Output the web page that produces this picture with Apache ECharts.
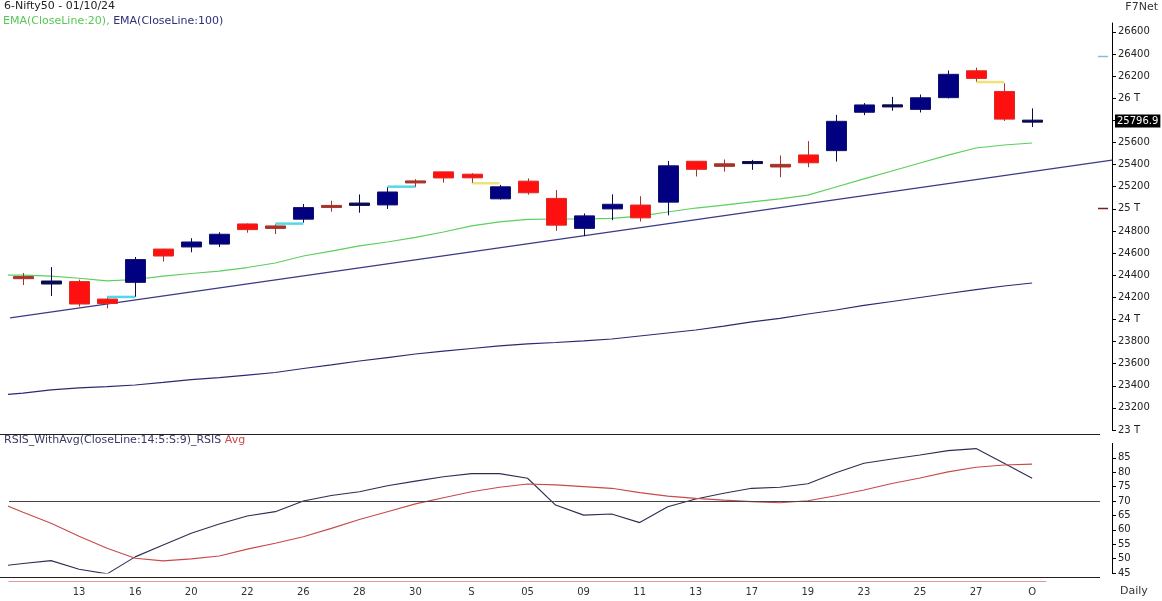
<!DOCTYPE html>
<html><head><meta charset="utf-8">
<script src="https://cdn.jsdelivr.net/npm/echarts@6/dist/echarts.min.js"></script>
<style>html,body{margin:0;padding:0;background:#fff}#c{width:1162px;height:601px}</style>
</head><body><div id="c"></div>
<script>
// ---- data (daily candles 09 Aug 2024 .. 01 Oct 2024) ----
const dates = ['09','12','13','14','16','19','20','21','22','23','26','27','28','29','30','02','03','04','05','06','09','10','11','12','13','16','17','18','19','20','23','24','25','26','27','30','01'];
const tickLabels = ['','','13','','16','','20','','22','','26','','28','','30','','S','','05','','09','','11','','13','','17','','19','','23','','25','','27','','O'];
const openP  = [24387,24320,24342,24184,24335,24636,24655,24681,24863,24845,24906,25025,25031,25035,25250,25334,25313,25090,25250,25094,24823,24999,25034,25060,25430,25407,25417,25402,25487,25526,25873,25921,25899,26005,26248,26061,25788];
const closeP = [24368,24347,24139,24144,24541,24573,24700,24770,24812,24823,25011,25018,25052,25152,25236,25279,25280,25199,25145,24852,24936,25041,24918,25389,25357,25384,25419,25378,25416,25791,25939,25940,26004,26216,26179,25811,25797];
const lowP   = [24311,24212,24116,24100,24205,24523,24607,24654,24784,24772,24875,24974,24965,24999,25199,25236,25236,25084,25128,24801,24753,24897,24885,24941,25292,25336,25352,25286,25376,25427,25847,25887,25871,25998,26151,25794,25739];
const highP  = [24420,24473,24360,24196,24564,24639,24734,24788,24867,24858,25044,25073,25130,25193,25268,25334,25322,25216,25275,25169,24958,25131,25114,25433,25431,25446,25442,25482,25612,25849,25956,26012,26033,26251,26277,26135,25908];
// line studies: first value is the session before the first candle (08 Aug)
const ema20  = [24401,24401,24392,24372,24348,24361,24392,24415,24437,24469,24510,24573,24618,24664,24700,24741,24790,24845,24881,24904,24908,24908,24913,24934,24971,25007,25034,25062,25089,25124,25197,25270,25342,25414,25486,25550,25577,25595];
const ema100 = [23312,23334,23362,23380,23393,23407,23430,23456,23474,23497,23520,23556,23588,23624,23655,23687,23714,23737,23760,23778,23791,23805,23823,23850,23877,23904,23940,23977,24009,24049,24085,24126,24162,24198,24234,24270,24302,24329];
const rsi    = [47.2,48.3,49.3,46.3,44.7,50.6,54.7,58.8,62.0,64.8,66.3,70.0,71.9,73.2,75.3,76.9,78.4,79.5,79.5,77.9,68.6,65.1,65.5,62.5,68.0,70.7,72.7,74.4,74.8,76.0,79.8,83.1,84.6,86.0,87.5,88.2,83.1,77.9];
const rsiAvg = [70.1,66.1,62.3,57.8,53.6,50.1,49.2,49.9,50.9,53.3,55.3,57.6,60.5,63.6,66.3,69.0,71.1,73.2,74.8,75.9,75.6,75.0,74.4,72.9,71.7,70.9,70.3,69.8,69.4,70.1,71.8,73.8,76.1,78.0,80.1,81.7,82.5,82.8];
const trendIdx = [-0.46, 38.85];
const trendVal = [24013, 25441];
const gapFrom  = [3, 9, 13, 16, 34];
const gapLevel = [24203, 24866, 25200, 25231, 26146];
const gapKind  = ['up','up','up','down','down'];
const markerLevel = [26385, 25005];
const markerKind  = ['cyan','maroon'];
const lastClose = 25796.9;
const rsiLevel = 70;

// ---- chart ----
const FONT = 'DejaVu Sans';
const chart = echarts.init(document.getElementById('c'), null, {renderer:'canvas'});
const XMIN = -0.5, XMAX = 38.85;

const candleData = openP.map((o,k)=>[k, o, closeP[k], lowP[k], highP[k]]);
const withIdx = arr => arr.map((v,k)=>[k-1, v]);
const gapData = gapFrom.map((f,k)=>[f, f+1, gapLevel[k]]);
const markerData = markerLevel.map(v=>[38.35, 38.71, v]);
const gapColor = {up:'#55D8E6', down:'#EEE27A'};
const markColor = {cyan:'#7CC3D6', maroon:'#7A1E1E'};

const option = {
  animation:false,
  backgroundColor:'#fff',
  textStyle:{fontFamily:FONT},
  grid:[
    {left:9, right:50, top:23, height:407},
    {left:9, right:50, top:443.4, height:129.6},
    {left:9, right:115.9, top:560, bottom:20}
  ],
  xAxis:[
    {type:'value', gridIndex:0, min:XMIN, max:XMAX, show:false},
    {type:'value', gridIndex:1, min:XMIN, max:XMAX, show:false},
    {type:'category', gridIndex:2, data:dates, boundaryGap:true,
      axisLine:{lineStyle:{color:'#E39A9A', width:1}},
      axisTick:{show:false},
      axisLabel:{interval:0, margin:6, color:'#333', fontSize:10, fontFamily:FONT,
        formatter:(v,idx)=>tickLabels[idx]}}
  ],
  yAxis:[
    {type:'value', gridIndex:0, position:'right', min:23000, max:26680, interval:200,
      axisLine:{show:true, onZero:false, lineStyle:{color:'#000', width:1}},
      axisTick:{show:true, length:4, lineStyle:{color:'#000'}},
      splitLine:{show:false},
      axisLabel:{margin:6, color:'#222', fontSize:10, fontFamily:FONT, showMaxLabel:false,
        formatter:v=> (v%1000===0 ? (v/1000)+' T' : String(v))}},
    {type:'value', gridIndex:1, position:'right', min:45, max:90, interval:5,
      axisLine:{show:true, onZero:false, lineStyle:{color:'#000', width:1}},
      axisTick:{show:true, length:4, lineStyle:{color:'#000'}},
      splitLine:{show:false},
      axisLabel:{margin:6, color:'#222', fontSize:10, fontFamily:FONT, showMaxLabel:false}},
    {type:'value', gridIndex:2, show:false}
  ],
  series:[
    {name:'trend', type:'line', xAxisIndex:0, yAxisIndex:0, data:trendIdx.map((x,k)=>[x, trendVal[k]]),
      symbol:'none', lineStyle:{color:'#3A3A86', width:1.3}, z:2, silent:true},
    {name:'EMA100', type:'line', xAxisIndex:0, yAxisIndex:0, data:withIdx(ema100),
      symbol:'none', lineStyle:{color:'#2A2A72', width:1.2}, z:2, silent:true},
    {name:'EMA20', type:'line', xAxisIndex:0, yAxisIndex:0, data:withIdx(ema20),
      symbol:'none', lineStyle:{color:'#5CCF5C', width:1.2}, z:2, silent:true},
    {name:'gaps', type:'custom', xAxisIndex:0, yAxisIndex:0, data:gapData, z:3, silent:true,
      renderItem:(params, api)=>{
        const a = api.coord([api.value(0), api.value(2)]);
        const b = api.coord([api.value(1), api.value(2)]);
        return {type:'line', shape:{x1:a[0], y1:a[1], x2:b[0], y2:b[1]},
          style:{stroke:gapColor[gapKind[params.dataIndex]], lineWidth:2.5}};
      }},
    {name:'markers', type:'custom', xAxisIndex:0, yAxisIndex:0, data:markerData, z:3, silent:true, clip:false,
      renderItem:(params, api)=>{
        const a = api.coord([api.value(0), api.value(2)]);
        const b = api.coord([api.value(1), api.value(2)]);
        return {type:'line', shape:{x1:a[0], y1:Math.round(a[1])+0.5, x2:b[0], y2:Math.round(b[1])+0.5},
          style:{stroke:markColor[markerKind[params.dataIndex]], lineWidth:1.5}};
      }},
    {name:'lastLabel', type:'custom', xAxisIndex:0, yAxisIndex:0, data:[[XMAX, lastClose]], z:10, silent:true, clip:false,
      renderItem:(params, api)=>{
        const p = api.coord([api.value(0), api.value(1)]);
        return {type:'text', x:p[0]+3, y:Math.round(p[1]), style:{text:String(lastClose), fill:'#fff',
          backgroundColor:'#000', padding:[2,2,1,2], font:'10px "DejaVu Sans"', verticalAlign:'middle', align:'left'}};
      }},
    {name:'candles', type:'custom', xAxisIndex:0, yAxisIndex:0, data:candleData, z:5, silent:true,
      encode:{x:0, y:[1,2,3,4]},
      renderItem:(params, api)=>{
        const i = api.value(0), o = api.value(1), c = api.value(2), l = api.value(3), h = api.value(4);
        const pO = api.coord([i,o]), pC = api.coord([i,c]), pL = api.coord([i,l]), pH = api.coord([i,h]);
        const band = api.size([1,0])[0];
        const half = band*0.357;
        const x = Math.round(pO[0]) + 0.5;
        const up = c >= o;
        let top = Math.min(pO[1], pC[1]), bot = Math.max(pO[1], pC[1]);
        const wick = up ? '#0A0A50' : '#A8322A';
        let fill = up ? '#000080' : '#FF1010';
        let stroke = up ? '#10106E' : '#E02A20';
        if (bot - top < 3) { fill = wick; stroke = wick; if (bot-top < 2) { const m=(top+bot)/2; top=m-1; bot=m+1; } }
        return {type:'group', children:[
          {type:'line', shape:{x1:x, y1:pH[1], x2:x, y2:pL[1]}, style:{stroke:wick, lineWidth:1}},
          {type:'rect', shape:{x:x-half, y:top, width:half*2, height:bot-top},
            style:{fill:fill, stroke:stroke, lineWidth:1}}
        ]};
      }},
    {name:'RSIS', type:'line', xAxisIndex:1, yAxisIndex:1, data:withIdx(rsi),
      symbol:'none', lineStyle:{color:'#2E2E52', width:1.1}, z:3, silent:true,
      markLine:{silent:true, symbol:['none','none'], label:{show:false},
        lineStyle:{color:'#444', width:1, type:'solid'},
        data:[[{coord:[XMIN, rsiLevel]},{coord:[38.42, rsiLevel]}]]}},
    {name:'Avg', type:'line', xAxisIndex:1, yAxisIndex:1, data:withIdx(rsiAvg),
      symbol:'none', lineStyle:{color:'#C84A4A', width:1.1}, z:3, silent:true}
  ],
  graphic:[
    {type:'line', shape:{x1:0, y1:434.5, x2:1100, y2:434.5}, style:{stroke:'#222', lineWidth:1}, silent:true},
    {type:'line', shape:{x1:0, y1:577.5, x2:1100, y2:577.5}, style:{stroke:'#222', lineWidth:1}, silent:true},
    {type:'text', left:4, top:1, style:{text:'6-Nifty50 - 01/10/24', fill:'#222', font:'11px "DejaVu Sans"'}},
    {type:'text', left:3, top:16, style:{text:'{g|EMA(CloseLine:20),} {b|EMA(CloseLine:100)}', font:'11px "DejaVu Sans"',
      rich:{g:{fill:'#55C855', color:'#55C855', font:'11px "DejaVu Sans"'}, b:{fill:'#2E2E7A', color:'#2E2E7A', font:'11px "DejaVu Sans"'}}}},
    {type:'text', right:4, top:2, style:{text:'F7Net', fill:'#333', font:'11px "DejaVu Sans"'}},
    {type:'text', left:4, top:435, style:{text:'{a|RSIS_WithAvg(CloseLine:14:5:S:9)_RSIS} {b|Avg}', font:'11px "DejaVu Sans"',
      rich:{a:{fill:'#3A3A66', color:'#3A3A66', font:'11px "DejaVu Sans"'}, b:{fill:'#D04A4A', color:'#D04A4A', font:'11px "DejaVu Sans"'}}}},
    {type:'text', left:1120, top:586, style:{text:'Daily', fill:'#333', font:'11px "DejaVu Sans"'}}
  ]
};
chart.setOption(option);
</script></body></html>
